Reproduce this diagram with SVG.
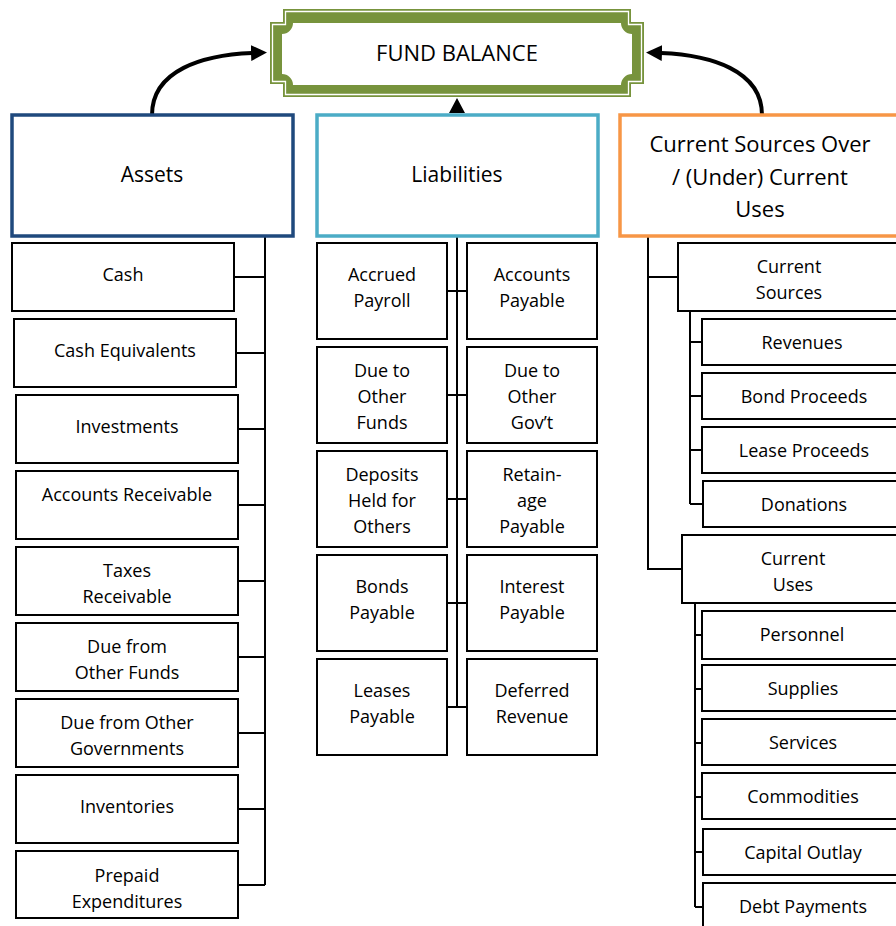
<svg xmlns="http://www.w3.org/2000/svg" width="896" height="926" viewBox="0 0 896 926">
<style>
.box{fill:#fff;stroke:#000;stroke-width:2}
.t{font-family:'Open Sans','Liberation Sans',sans-serif;font-size:18px;text-anchor:middle;fill:#000}
.h{font-size:21px}
.ln{stroke:#000;stroke-width:2;fill:none}
.arr{stroke:#000;stroke-width:4;fill:none}
</style>
<defs>
<marker id="ah" markerUnits="userSpaceOnUse" markerWidth="16" markerHeight="16" refX="1" refY="8" orient="auto">
<path d="M0,0 L16,8 L0,16 Z" fill="#000"/>
</marker>
</defs>
<rect width="896" height="926" fill="#fff"/>

<g id="connectors">
<path class="arr" d="M152,115 C152,70 203,55 252,53" marker-end="url(#ah)"/>
<path class="arr" d="M762,115 C762,70 710,55 661,53" marker-end="url(#ah)"/>
<polygon points="449,113 465,113 457,98" fill="#000"/>
<path class="ln" d="M265,236 V885 M234,277 H265 M236,353 H265 M238,429 H265 M238,505 H265 M238,581 H265 M238,657 H265 M238,733 H265 M238,809 H265 M238,885 H265"/>
<path class="ln" d="M457,236 V707 M447,291 H467 M447,395 H467 M447,499 H467 M447,603 H467 M447,707 H467"/>
<path class="ln" d="M648,236 V569 H682 M648,277 H678 M690,311 V504 M690,342 H702 M690,396 H702 M690,450 H702 M690,504 H703 M695,603 V907 M695,635 H702 M695,689 H702 M695,743 H702 M695,797 H702 M695,852 H703 M695,907 H703"/>
</g>

<g id="fund-balance">
<polygon points="283,9 631,9 631,22 644,22 644,84 631,84 631,97 283,97 283,84 270,84 270,22 283,22" fill="#77933c"/>
<polygon points="285.5,11.5 628.5,11.5 628.5,24.5 641.5,24.5 641.5,81.5 628.5,81.5 628.5,94.5 285.5,94.5 285.5,81.5 272.5,81.5 272.5,24.5 285.5,24.5" fill="none" stroke="#fff" stroke-width="1.3"/>
<path d="M293,23 H621 A11,11 0 0 0 632,34 V74 A11,11 0 0 0 621,85 H293 A11,11 0 0 0 282,74 V34 A11,11 0 0 0 293,23 Z" fill="#fff"/>
<text class="t" x="457" y="61" style="font-size:22px">FUND BALANCE</text>
</g>

<g id="assets">
<rect x="12" y="115" width="281" height="121" fill="#fff" stroke="#1f497d" stroke-width="3.5"/>
<text class="t h" x="152" y="182">Assets</text>
</g>
<g id="liabilities">
<rect x="317" y="115" width="281" height="121" fill="#fff" stroke="#4bacc6" stroke-width="3.5"/>
<text class="t h" x="457" y="182">Liabilities</text>
</g>
<g id="current-sources-over-under">
<rect x="620" y="115" width="295" height="121" fill="#fff" stroke="#f79646" stroke-width="3.5"/>
<text class="t" style="font-size:22px" x="760" y="152">Current Sources Over</text>
<text class="t" style="font-size:22px" x="760" y="185">/ (Under) Current</text>
<text class="t" style="font-size:22px" x="760" y="217">Uses</text>
</g>

<g id="cash"><rect class="box" x="12" y="243" width="222" height="68"/><text class="t" x="123" y="281">Cash</text></g>
<g id="cash-equivalents"><rect class="box" x="14" y="319" width="222" height="68"/><text class="t" x="125" y="357">Cash Equivalents</text></g>
<g id="investments"><rect class="box" x="16" y="395" width="222" height="68"/><text class="t" x="127" y="433">Investments</text></g>
<g id="accounts-receivable"><rect class="box" x="16" y="471" width="222" height="68"/><text class="t" x="127" y="501">Accounts Receivable</text></g>
<g id="taxes-receivable"><rect class="box" x="16" y="547" width="222" height="68"/><text class="t" x="127" y="577">Taxes</text><text class="t" x="127" y="603">Receivable</text></g>
<g id="due-from-other-funds"><rect class="box" x="16" y="623" width="222" height="68"/><text class="t" x="127" y="653">Due from</text><text class="t" x="127" y="679">Other Funds</text></g>
<g id="due-from-other-governments"><rect class="box" x="16" y="699" width="222" height="68"/><text class="t" x="127" y="729">Due from Other</text><text class="t" x="127" y="755">Governments</text></g>
<g id="inventories"><rect class="box" x="16" y="775" width="222" height="68"/><text class="t" x="127" y="813">Inventories</text></g>
<g id="prepaid-expenditures"><rect class="box" x="16" y="851" width="222" height="67"/><text class="t" x="127" y="882">Prepaid</text><text class="t" x="127" y="908">Expenditures</text></g>

<g id="accrued-payroll"><rect class="box" x="317" y="243" width="130" height="96"/><text class="t" x="382" y="281">Accrued</text><text class="t" x="382" y="307">Payroll</text></g>
<g id="accounts-payable"><rect class="box" x="467" y="243" width="130" height="96"/><text class="t" x="532" y="281">Accounts</text><text class="t" x="532" y="307">Payable</text></g>
<g id="due-to-other-funds"><rect class="box" x="317" y="347" width="130" height="96"/><text class="t" x="382" y="377">Due to</text><text class="t" x="382" y="403">Other</text><text class="t" x="382" y="429">Funds</text></g>
<g id="due-to-other-govt"><rect class="box" x="467" y="347" width="130" height="96"/><text class="t" x="532" y="377">Due to</text><text class="t" x="532" y="403">Other</text><text class="t" x="532" y="429">Gov’t</text></g>
<g id="deposits-held"><rect class="box" x="317" y="451" width="130" height="96"/><text class="t" x="382" y="481">Deposits</text><text class="t" x="382" y="507">Held for</text><text class="t" x="382" y="533">Others</text></g>
<g id="retainage-payable"><rect class="box" x="467" y="451" width="130" height="96"/><text class="t" x="532" y="481">Retain-</text><text class="t" x="532" y="507">age</text><text class="t" x="532" y="533">Payable</text></g>
<g id="bonds-payable"><rect class="box" x="317" y="555" width="130" height="96"/><text class="t" x="382" y="593">Bonds</text><text class="t" x="382" y="619">Payable</text></g>
<g id="interest-payable"><rect class="box" x="467" y="555" width="130" height="96"/><text class="t" x="532" y="593">Interest</text><text class="t" x="532" y="619">Payable</text></g>
<g id="leases-payable"><rect class="box" x="317" y="659" width="130" height="96"/><text class="t" x="382" y="697">Leases</text><text class="t" x="382" y="723">Payable</text></g>
<g id="deferred-revenue"><rect class="box" x="467" y="659" width="130" height="96"/><text class="t" x="532" y="697">Deferred</text><text class="t" x="532" y="723">Revenue</text></g>

<g id="current-sources"><rect class="box" x="678" y="243" width="240" height="68"/><text class="t" x="789" y="273">Current</text><text class="t" x="789" y="299">Sources</text></g>
<g id="revenues"><rect class="box" x="702" y="319" width="210" height="46"/><text class="t" x="802" y="349">Revenues</text></g>
<g id="bond-proceeds"><rect class="box" x="702" y="373" width="210" height="46"/><text class="t" x="804" y="403">Bond Proceeds</text></g>
<g id="lease-proceeds"><rect class="box" x="702" y="427" width="210" height="46"/><text class="t" x="804" y="457">Lease Proceeds</text></g>
<g id="donations"><rect class="box" x="703" y="481" width="210" height="46"/><text class="t" x="804" y="511">Donations</text></g>
<g id="current-uses"><rect class="box" x="682" y="535" width="240" height="68"/><text class="t" x="793" y="565">Current</text><text class="t" x="793" y="591">Uses</text></g>
<g id="personnel"><rect class="box" x="702" y="611" width="210" height="48"/><text class="t" x="802" y="641">Personnel</text></g>
<g id="supplies"><rect class="box" x="702" y="665" width="210" height="46"/><text class="t" x="803" y="695">Supplies</text></g>
<g id="services"><rect class="box" x="702" y="719" width="210" height="46"/><text class="t" x="803" y="749">Services</text></g>
<g id="commodities"><rect class="box" x="702" y="773" width="210" height="46"/><text class="t" x="803" y="803">Commodities</text></g>
<g id="capital-outlay"><rect class="box" x="703" y="829" width="210" height="46"/><text class="t" x="803" y="859">Capital Outlay</text></g>
<g id="debt-payments"><rect class="box" x="703" y="883" width="210" height="60"/><text class="t" x="803" y="913">Debt Payments</text></g>
</svg>
